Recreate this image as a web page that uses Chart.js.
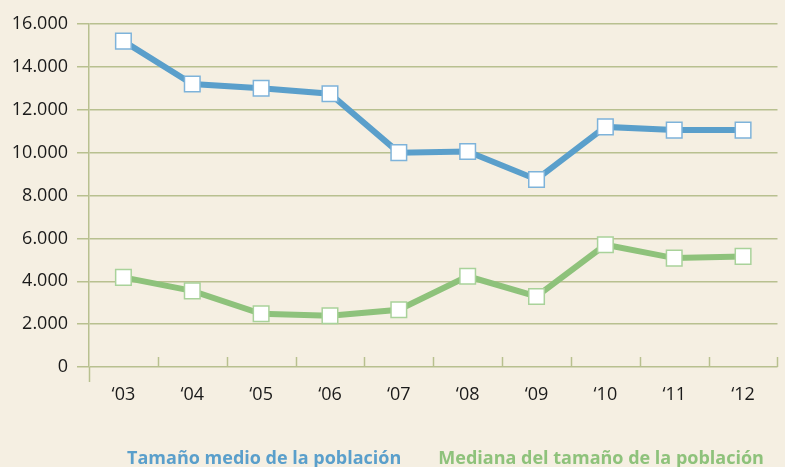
<!DOCTYPE html>
<html>
<head>
<meta charset="utf-8">
<script src="https://cdn.jsdelivr.net/npm/chart.js@4/dist/chart.umd.min.js"></script>
<style>
  html, body { margin: 0; padding: 0; background: #f5efe2; overflow: hidden; }
  #wrap { position: relative; width: 790px; height: 467px; }
  #legend {
    position: absolute; left: 95px; width: 701px; top: 444px;
    display: flex; justify-content: center; gap: 37px;
    font-family: 'Open Sans', Lato, sans-serif; font-weight: bold; font-size: 18px;
    line-height: 26px; white-space: nowrap;
  }
</style>
</head>
<body>
<div id="wrap"><canvas id="c"></canvas><div id="legend"></div></div>
<script>
const categories = ["\u201803", "\u201804", "\u201805", "\u201806", "\u201807", "\u201808", "\u201809", "\u201810", "\u201811", "\u201812"];
const meanSize = [15200, 13200, 13000, 12750, 10000, 10050, 8750, 11200, 11050, 11050];
const medianSize = [4180, 3550, 2480, 2390, 2670, 4230, 3290, 5700, 5080, 5160];
const seriesNames = ["Tamaño medio de la población", "Mediana del tamaño de la población"];
const yTicks = [0, 2000, 4000, 6000, 8000, 10000, 12000, 14000, 16000];

const BLUE = '#5a9fcb', BLUE_PT = '#7eb3da';
const GREEN = '#8ec27b', GREEN_PT = '#a9d29a';
const GRID = '#b8c08f';
const TEXT = '#1a1a1a';
const FONT = "'Open Sans', Lato, sans-serif";

const axisExtras = {
  id: 'axisExtras',
  afterDatasetsDraw(chart) {
    const ctx = chart.ctx, x = chart.scales.x, y = chart.scales.y;
    const area = chart.chartArea;
    const half = (x.getPixelForValue(1) - x.getPixelForValue(0)) / 2;
    const y0 = y.getPixelForValue(0);
    ctx.save();
    ctx.strokeStyle = GRID;
    ctx.lineWidth = 1.5;
    for (let i = 0; i < categories.length; i++) {
      const px = Math.round(x.getPixelForValue(i) + half) + 0.5;
      ctx.beginPath();
      ctx.moveTo(px, y0);
      ctx.lineTo(px, y0 - 10);
      ctx.stroke();
    }
    ctx.beginPath();
    ctx.moveTo(area.left + 0.5, y0);
    ctx.lineTo(area.left + 0.5, y0 + 15);
    ctx.stroke();
    ctx.restore();
  }
};

const chart = new Chart(document.getElementById('c'), {
  type: 'line',
  data: {
    labels: categories,
    datasets: [
      {
        label: seriesNames[0], data: meanSize,
        borderColor: BLUE, borderWidth: 6, tension: 0,
        pointStyle: 'rect', pointRadius: 11, pointHoverRadius: 11,
        pointBackgroundColor: '#ffffff', pointBorderColor: BLUE_PT, pointBorderWidth: 1.5
      },
      {
        label: seriesNames[1], data: medianSize,
        borderColor: GREEN, borderWidth: 6, tension: 0,
        pointStyle: 'rect', pointRadius: 11, pointHoverRadius: 11,
        pointBackgroundColor: '#ffffff', pointBorderColor: GREEN_PT, pointBorderWidth: 1.5
      }
    ]
  },
  options: {
    responsive: true,
    maintainAspectRatio: false,
    animation: false,
    layout: { padding: { top: 24, right: 0, left: 0, bottom: 44 } },
    plugins: {
      tooltip: { enabled: false },
      legend: { display: false }
    },
    scales: {
      x: {
        offset: true,
        grid: { display: false },
        border: { display: false },
        ticks: { color: TEXT, font: { family: FONT, size: 18 }, padding: 9 },
        afterFit(scale) { scale.height = 56; }
      },
      y: {
        min: 0, max: 16000,
        afterBuildTicks(scale) { scale.ticks = yTicks.map(v => ({ value: v })); },
        grid: { color: GRID, lineWidth: 1.5, tickLength: 12 },
        border: { display: true, color: GRID, width: 1.5 },
        ticks: {
          color: TEXT, font: { family: FONT, size: 18 }, padding: 9,
          callback(v) { return v === 0 ? '0' : v.toLocaleString('de-DE'); }
        },
        afterFit(scale) { scale.width = 89; }
      }
    }
  },
  plugins: [axisExtras]
});

const legendEl = document.getElementById('legend');
chart.data.datasets.forEach(d => {
  const s = document.createElement('span');
  s.textContent = d.label;
  s.style.color = d.borderColor;
  legendEl.appendChild(s);
});
</script>
</body>
</html>
